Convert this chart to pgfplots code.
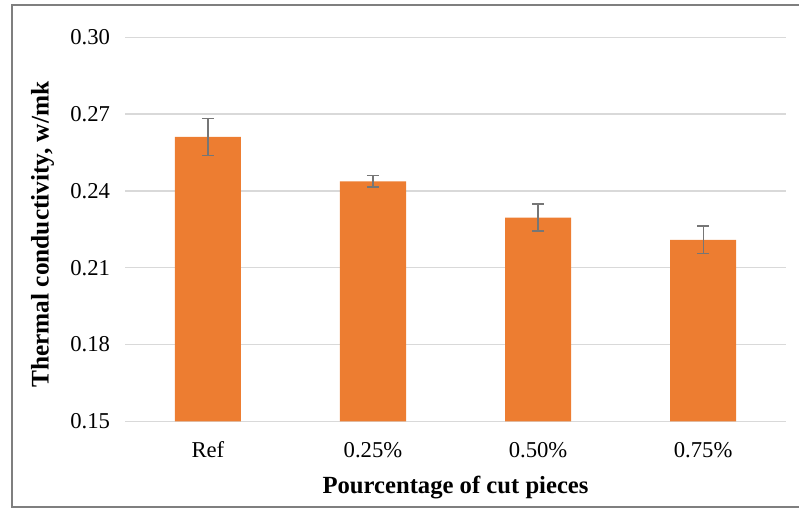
\documentclass[border=0pt]{standalone}
\usepackage{fontspec}
\setmainfont{Liberation Serif}
\usepackage{pgfplots}
\pgfplotsset{compat=1.18}
\definecolor{barorange}{HTML}{ED7D31}
\definecolor{errgray}{HTML}{767676}
\definecolor{gridgray}{HTML}{D9D9D9}
\definecolor{framegray}{HTML}{7F7F7F}
\begin{document}
\begin{tikzpicture}
\path[use as bounding box] (-94pt,-65pt) rectangle (505.25pt,316pt);
\draw[framegray, line width=1.5pt] (512pt,312.25pt) -- (-85pt,312.25pt) -- (-85pt,-64pt) -- (512pt,-64pt);
\begin{axis}[
  at={(0,0)}, anchor=south west,
  scale only axis, width=495.3pt, height=288pt,
  xmin=-0.5, xmax=3.5, ymin=0.15, ymax=0.30,
  xtick={0,1,2,3}, xticklabels={Ref,0.25\%,0.50\%,0.75\%},
  ytick={0.15,0.18,0.21,0.24,0.27,0.30},
  /pgf/number format/assume math mode=true,
  yticklabel style={/pgf/number format/fixed, /pgf/number format/fixed zerofill, /pgf/number format/precision=2, font=\fontsize{17}{20}\selectfont, xshift=-8pt},
  xticklabel style={font=\fontsize{17}{20}\selectfont, anchor=base, yshift=-27pt},
  major tick length=0pt,
  axis line style={draw=none},
  ymajorgrids, grid style={gridgray, line width=1pt},
  xlabel={Pourcentage of cut pieces},
  ylabel={Thermal conductivity, w/mk},
  xlabel style={font=\bfseries\fontsize{18.5}{22}\selectfont, at={(rel axis cs:0.5,0)}, anchor=base, yshift=-53.8pt},
  ylabel style={font=\bfseries\fontsize{19}{22}\selectfont, at={(rel axis cs:0,0.5)}, anchor=base, yshift=57.5pt, xshift=-4pt},
]
\addplot[ybar, bar width=0.4, fill=barorange, draw=none,
  error bars/.cd, y dir=both, y explicit,
  error bar style={errgray, line width=1pt},
  error mark options={rotate=90, mark size=4.5pt, errgray, line width=1pt}]
coordinates {
  (0,0.2611) +- (0,0.0072)
  (1,0.2437) +- (0,0.0022)
  (2,0.2296) +- (0,0.0053)
  (3,0.2209) +- (0,0.0054)
};
\end{axis}
\end{tikzpicture}
\end{document}
